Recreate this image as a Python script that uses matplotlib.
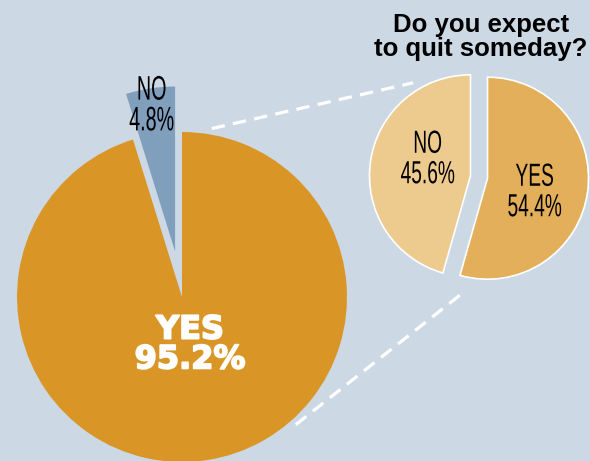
import numpy as np
import matplotlib.pyplot as plt
import matplotlib.patheffects as pe
from matplotlib.transforms import Affine2D

# survey answers
main_labels = ['YES', 'NO']
main_values = [95.2, 4.8]
quit_labels = ['YES', 'NO']
quit_values = [54.4, 45.6]
title = 'Do you expect\nto quit someday?'

bg = '#cdd8e5'
main_colors = ['#d99626', '#7f9fbd']
quit_colors = ['#e3af5a', '#edca8e']

# layout in pixel units (y up)
big_c, big_r = (182, 164), 165
small_c, small_r = (479, 284), 101


class Squeeze(pe.AbstractPathEffect):
    """Narrow each text line horizontally around its own centre."""

    def __init__(self, sx):
        super().__init__()
        self.sx = sx

    def draw_path(self, renderer, gc, tpath, affine, rgbFace=None):
        verts = affine.transform(tpath.vertices)
        if len(verts):
            cx = 0.5 * (verts[:, 0].min() + verts[:, 0].max())
            affine = affine + Affine2D().translate(-cx, 0).scale(self.sx, 1).translate(cx, 0)
        renderer.draw_path(gc, tpath, affine, rgbFace)


fig = plt.figure(figsize=(5.9, 4.61), dpi=100, facecolor=bg)
ax = fig.add_axes([0, 0, 1, 1])
ax.set_facecolor(bg)

# explode is in data units (pixels here)
ax.pie(main_values, colors=main_colors, startangle=90, counterclock=False,
       explode=[0, 46], center=big_c, radius=big_r,
       wedgeprops=dict(linewidth=0))
ax.pie(quit_values, colors=quit_colors, startangle=90, counterclock=False,
       explode=[8.6, 8.6], center=small_c, radius=small_r,
       wedgeprops=dict(edgecolor='white', linewidth=1.2))

ax.set_xlim(0, 590)
ax.set_ylim(0, 461)
ax.set_aspect('equal')
ax.axis('off')

# dashed connectors between the two pies
def on_circle(c, r, ang):
    a = np.radians(ang)
    return c[0] + r * np.cos(a), c[1] + r * np.sin(a)

for a1, a2 in [(80, 125), (-48.3, -97)]:
    x1, y1 = on_circle(big_c, big_r + 6, a1)
    x2, y2 = on_circle(small_c, small_r + 14, a2)
    ax.plot([x1, x2], [y1, y2], color='white', lw=2.3,
            dashes=(4.2, 2.6), solid_capstyle='butt', dash_capstyle='butt')

# labels
ax.text(190, 461 - 345, f'{main_labels[0]}\n{main_values[0]}%', color='white',
        fontsize=23, fontweight='bold', ha='center', va='center',
        linespacing=0.95, family='DejaVu Sans',
        path_effects=[pe.withStroke(linewidth=1.3, foreground='white')])

narrow = dict(color='black', ha='center', va='center',
              family='Liberation Sans')
ax.text(152, 461 - 106.5, f'{main_labels[1]}\n{main_values[1]}%',
        fontsize=24.5, linespacing=0.99, path_effects=[Squeeze(0.58)], **narrow)
ax.text(428, 461 - 160, f'{quit_labels[1]}\n{quit_values[1]}%',
        fontsize=23, linespacing=1.02, path_effects=[Squeeze(0.6)], **narrow)
ax.text(535, 461 - 193, f'{quit_labels[0]}\n{quit_values[0]}%',
        fontsize=23, linespacing=1.02, path_effects=[Squeeze(0.6)], **narrow)

ax.text(481, 461 - 37, title, color='black', fontsize=18.5, fontweight='bold',
        ha='center', va='center', linespacing=1.0,
        family=['Liberation Sans', 'DejaVu Sans'])

fig.savefig('out.png', dpi=100, facecolor=bg)
